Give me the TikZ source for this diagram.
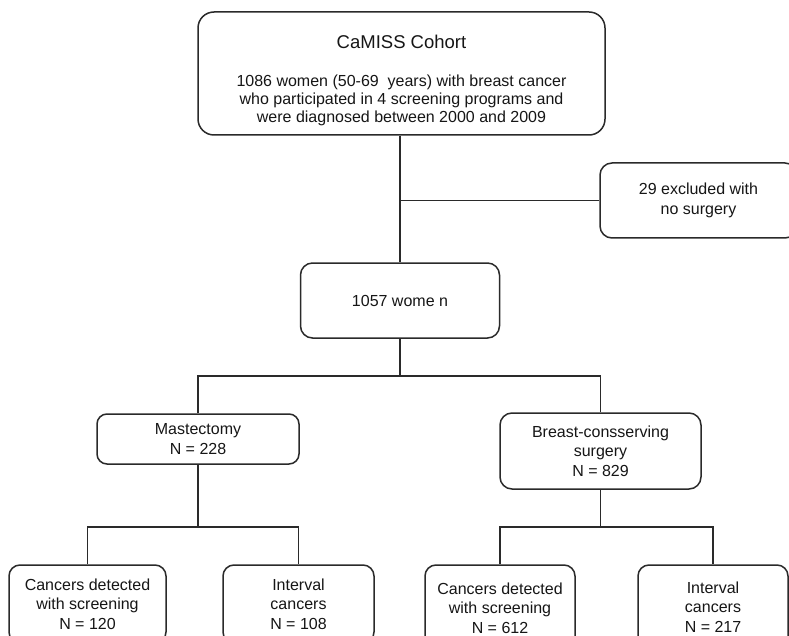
\documentclass[tikz,border=0pt]{standalone}
\usepackage{fontspec}
\setmainfont{Liberation Sans}
\definecolor{linec}{HTML}{2A2A2A}
\definecolor{textc}{HTML}{161616}
\tikzset{
  box/.style={draw=linec, line width=1.5pt, rounded corners=#1, inner sep=0pt,
    align=center, text=textc, font=\fontsize{16}{19.5}\selectfont},
  box/.default=11pt,
  conn/.style={draw=linec, line width=1.5pt},
  lbl/.style={inner sep=0pt, align=center, text=textc}
}
\begin{document}
\begin{tikzpicture}[x=1pt,y=-1pt]
\useasboundingbox (0,0) rectangle (789,636);
\clip (0,0) rectangle (789,636);
\fill[white] (0,0) rectangle (789,636);

% boxes
\node[box=16pt, minimum width=407pt, minimum height=123pt] (top) at (401.5,73.5) {};
\node[lbl, font=\fontsize{18.5}{20}\selectfont] (title) at (401.5,42) {CaMISS Cohort};
\node[lbl, font=\fontsize{16}{18}\selectfont] (body) at (401.5,100.5)
  {1086 women (50-69\ \ years) with breast cancer\\who participated in 4 screening programs and\\were diagnosed between 2000 and 2009};

\node[box=12pt, minimum width=197pt, minimum height=75pt] (excl) at (698.5,200.5) {29 excluded with\\no surgery};
\node[box=12pt, minimum width=199pt, minimum height=75pt] (mid) at (400,300.5) {1057 wome n};
\node[box=10pt, minimum width=202pt, minimum height=50pt] (mast) at (198,439) {Mastectomy\\N = 228};
\node[box=12pt, minimum width=201pt, minimum height=76pt] (bcs) at (600.5,451) {Breast-consserving\\surgery\\N = 829};
\node[box=11pt, minimum width=157pt, minimum height=78pt] (b1) at (87.5,604) {Cancers detected\\with screening\\N = 120};
\node[box=11pt, minimum width=151pt, minimum height=78pt] (b2) at (298.5,604) {Interval\\cancers\\N = 108};
\node[box=11pt, minimum width=150pt, minimum height=86pt] (b3) at (500,608) {Cancers detected\\with screening\\N = 612};
\node[box=11pt, minimum width=150pt, minimum height=84pt] (b4) at (713,607) {Interval\\cancers\\N = 217};

% junctions
\coordinate (j0) at (mid.north |- excl.west);
\coordinate (j1) at (400,376);
\coordinate (j2) at (198,527);
\coordinate (j3) at (600.5,527);

% connectors
\draw[conn] (mid.north |- top.south) -- (mid.north);
\draw[conn] (j0) -- (excl.west);
\draw[conn] (mid.south) -- (j1);
\draw[conn] (mast.north) |- (j1) -| (bcs.north);
\draw[conn] (mast.south) -- (j2);
\draw[conn] (b1.north) |- (j2) -| (b2.north);
\draw[conn] (bcs.south) -- (j3);
\draw[conn] (b3.north) |- (j3) -| (b4.north);
\end{tikzpicture}
\end{document}
